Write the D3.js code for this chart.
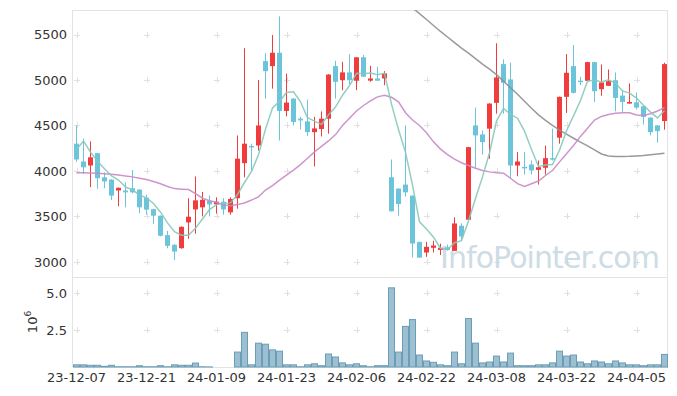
<!DOCTYPE html>
<html lang="ko">
<head>
    <meta charset="UTF-8">
    <title>주가 차트</title>
    <script src="https://d3js.org/d3.v7.min.js"></script>
    <style>
        body {
            margin: 0;
            padding: 0;
            background-color: #ffffff;
        }
        svg text {
            font-family: "DejaVu Sans", sans-serif;
            fill: #333333;
        }
    </style>
</head>
<body>
    <div id="chart"></div>

    <script>
        // trading days (YY-MM-DD)
        const dates = [
            "23-12-07","23-12-08","23-12-11","23-12-12","23-12-13","23-12-14","23-12-15","23-12-18","23-12-19","23-12-20",
            "23-12-21","23-12-22","23-12-26","23-12-27","23-12-28","24-01-02","24-01-03","24-01-04","24-01-05","24-01-08",
            "24-01-09","24-01-10","24-01-11","24-01-12","24-01-15","24-01-16","24-01-17","24-01-18","24-01-19","24-01-22",
            "24-01-23","24-01-24","24-01-25","24-01-26","24-01-29","24-01-30","24-01-31","24-02-01","24-02-02","24-02-05",
            "24-02-06","24-02-07","24-02-08","24-02-13","24-02-14","24-02-15","24-02-16","24-02-19","24-02-20","24-02-21",
            "24-02-22","24-02-23","24-02-26","24-02-27","24-02-28","24-02-29","24-03-04","24-03-05","24-03-06","24-03-07",
            "24-03-08","24-03-11","24-03-12","24-03-13","24-03-14","24-03-15","24-03-18","24-03-19","24-03-20","24-03-21",
            "24-03-22","24-03-25","24-03-26","24-03-27","24-03-28","24-03-29","24-04-01","24-04-02","24-04-03","24-04-04",
            "24-04-05","24-04-08","24-04-09","24-04-11","24-04-12"
        ];

        const opens = [
            4300, 4104, 4060, 4196, 3930, 3905, 3785, 3785, 3810, 3795,
            3705, 3580, 3508, 3295, 3188, 3151, 3434, 3577, 3600, 3670,
            3633, 3662, 3545, 3700, 4086, 4275, 4280, 5208, 5153, 5300,
            4660, 4796, 4575, 4545, 4427, 4461, 4575, 5153, 4998, 5084,
            4993, 5250, 4993, 5017, 5017, 3931, 3806, 3850, 3729, 3220,
            3103, 3155, 3132, 3160, 3121, 3397, 3464, 4501, 4402, 4465,
            4749, 5175, 5006, 4060, 4045, 4071, 4012, 4035, 4141, 4366,
            4815, 5153, 4993, 4991, 5197, 4899, 4936, 4998, 4829, 4741,
            4755, 4711, 4586, 4501, 4549
        ];
        const highs = [
            4500, 4355, 4325, 4200, 3985, 3910, 3818, 3875, 4010, 3800,
            3740, 3585, 3510, 3340, 3195, 3390, 3700, 3940, 3770, 3730,
            3710, 3700, 3710, 4390, 5350, 4300, 5000, 5295, 5495, 5700,
            5070, 4800, 4595, 4785, 4595, 4655, 5065, 5212, 5200, 5285,
            5250, 5275, 5155, 5145, 5098, 4126, 3810, 4500, 3730, 3222,
            3220, 3232, 3200, 3190, 3490, 3423, 4265, 4697, 4446, 4745,
            5404, 5227, 5190, 4207, 4207, 4115, 4115, 4280, 4465, 4818,
            5285, 5385, 5037, 5200, 5200, 5171, 5116, 5084, 4888, 4962,
            4862, 4715, 4590, 4505, 5190
        ];
        const lows = [
            4100, 3965, 3822, 3805, 3810, 3680, 3613, 3600, 3755, 3535,
            3520, 3420, 3280, 3150, 3020, 3145, 3255, 3310, 3500, 3500,
            3530, 3520, 3520, 3585, 3930, 4005, 4225, 4795, 4905, 4335,
            4600, 4500, 4455, 4385, 4050, 4380, 4410, 4795, 4888, 4955,
            4888, 5035, 4980, 4990, 4943, 3556, 3508, 3718, 3047, 3045,
            3055, 3103, 3075, 3125, 3120, 3232, 3460, 4035, 4180, 4134,
            4630, 4630, 3913, 3942, 3960, 3960, 3850, 3960, 4115, 4300,
            4637, 4852, 4943, 4988, 4759, 4826, 4936, 4656, 4650, 4741,
            4675, 4510, 4391, 4311, 4454
        ];
        const closes = [
            4126, 4040, 4150, 3920, 3885, 3729, 3815, 3765, 3765, 3600,
            3575, 3508, 3287, 3177, 3114, 3386, 3497, 3677, 3683, 3632,
            3662, 3577, 3692, 4135, 4300, 4265, 4500, 5098, 5300, 4660,
            4752, 4538, 4556, 4427, 4468, 4575, 5060, 4980, 5084, 4998,
            5250, 5037, 5017, 4993, 5073, 3556, 3637, 3765, 3202, 3047,
            3166, 3180, 3155, 3130, 3423, 3280, 4262, 4391, 4317, 4741,
            5028, 4969, 4060, 4104, 4035, 4005, 4041, 4141, 4134, 4815,
            5080, 4859, 4982, 5197, 4877, 4973, 4987, 4803, 4759, 4759,
            4697, 4594, 4427, 4438, 5175
        ];

        // moving averages as drawn (5, 20, 60 days)
        const ma5 = [
            4236, 4328, 4207, 4107, 4024, 3945, 3900, 3823, 3792, 3735,
            3704, 3643, 3547, 3429, 3332, 3294, 3292, 3370, 3471, 3575,
            3630, 3646, 3649, 3740, 3873, 3994, 4178, 4460, 4693, 4765,
            4862, 4870, 4761, 4587, 4548, 4513, 4617, 4702, 4833, 4939,
            5074, 5070, 5077, 5059, 5074, 4735, 4455, 4205, 3847, 3441,
            3363, 3272, 3150, 3136, 3211, 3234, 3450, 3697, 3935, 4198,
            4548, 4689, 4623, 4580, 4439, 4235, 4049, 4065, 4071, 4227,
            4442, 4606, 4774, 4987, 4999, 4978, 5003, 4967, 4880, 4856,
            4801, 4722, 4647, 4583, 4666
        ];
        const ma20 = [
            3980, 3980, 3978, 3975, 3970, 3965, 3955, 3945, 3935, 3920,
            3905, 3885, 3860, 3830, 3806, 3800, 3795, 3750, 3700, 3673,
            3655, 3626, 3618, 3630, 3648, 3680, 3715, 3790, 3840, 3900,
            3955, 4010, 4070, 4140, 4210, 4270, 4330, 4400, 4500, 4580,
            4660, 4720, 4770, 4815, 4833, 4810, 4760, 4640, 4560, 4500,
            4420, 4320, 4240, 4180, 4130, 4090, 4060, 4030, 4005, 3990,
            3980, 3975, 3920, 3860, 3830, 3860, 3890, 3950, 4005, 4100,
            4190, 4280, 4380, 4470, 4560, 4600, 4620, 4635, 4640, 4640,
            4615, 4610, 4630, 4660, 4697
        ];
        const ma60 = [
            null, null, null, null, null, null, null, null, null, null,
            null, null, null, null, null, null, null, null, null, null,
            null, null, null, null, null, null, null, null, null, null,
            null, null, null, null, null, null, null, null, null, null,
            null, null, null, null, null, null, null, 5850, 5793, 5730,
            5666, 5600, 5534, 5473, 5412, 5350, 5296, 5235, 5175, 5119,
            5059, 4987, 4915, 4844, 4766, 4689, 4617, 4557, 4501, 4450,
            4404, 4360, 4317, 4275, 4231, 4187, 4165, 4159, 4159, 4161,
            4165, 4170, 4179, 4187, 4196
        ];

        // volume in millions of shares
        const volumes = [
            0.18, 0.18, 0.15, 0.15, 0.08, 0.15, 0.05, 0.05, 0.05, 0.12,
            0.05, 0.05, 0.12, 0.05, 0.18, 0.15, 0.15, 0.30, 0.05, 0.04,
            0.01, 0.01, 0.02, 1.04, 2.37, 0.18, 1.64, 1.57, 1.19, 1.10,
            0.18, 0.18, 0.05, 0.18, 0.25, 0.12, 0.91, 0.71, 0.31, 0.18,
            0.25, 0.12, 0.05, 0.12, 0.12, 5.37, 1.04, 2.77, 3.23, 0.84,
            0.44, 0.35, 0.18, 0.12, 1.04, 0.25, 3.30, 1.64, 0.31, 0.37,
            0.77, 0.37, 0.97, 0.12, 0.12, 0.12, 0.18, 0.18, 0.31, 1.10,
            0.77, 0.84, 0.37, 0.25, 0.44, 0.37, 0.25, 0.44, 0.31, 0.18,
            0.18, 0.12, 0.18, 0.18, 0.88
        ];

        const priceTicks = [3000, 3500, 4000, 4500, 5000, 5500];
        const volumeTicks = [2.5, 5.0];
        const dateTicks = dates.filter((d, i) => i % 10 === 0);

        const width = 677;
        const height = 396;
        const left = 73, right = 668;
        const priceTop = 10, priceBottom = 278;
        const volTop = 278, volBottom = 367;

        const upColor = "#f03c3c";
        const downColor = "#6cc4da";

        const svg = d3.select("#chart")
            .append("svg")
            .attr("width", width)
            .attr("height", height);

        const x = d3.scaleBand().domain(dates).range([left, right]).padding(0);
        const cx = d => x(d) + x.bandwidth() / 2;

        const y = d3.scaleLinear().domain([2823, 5770]).range([priceBottom, priceTop]);
        const yVol = d3.scaleLinear().domain([0, 6.0]).range([volBottom, volTop]);

        svg.append("clipPath").attr("id", "price-clip")
            .append("rect")
            .attr("x", left).attr("y", priceTop)
            .attr("width", right - left).attr("height", priceBottom - priceTop);

        // pane borders
        const frame = svg.append("g").attr("stroke", "#e3e3e3").attr("fill", "none");
        frame.append("line").attr("x1", left).attr("x2", right).attr("y1", priceTop + 0.5).attr("y2", priceTop + 0.5);
        frame.append("line").attr("x1", left).attr("x2", right).attr("y1", priceBottom - 0.5).attr("y2", priceBottom - 0.5);
        frame.append("line").attr("x1", left).attr("x2", right).attr("y1", volBottom + 0.5).attr("y2", volBottom + 0.5);
        frame.append("line").attr("x1", left - 0.5).attr("x2", left - 0.5).attr("y1", priceTop).attr("y2", volBottom);
        frame.append("line").attr("x1", right - 0.5).attr("x2", right - 0.5).attr("y1", priceTop).attr("y2", volBottom);

        // little "+" marks at grid crossings
        const crossPoints = [];
        dateTicks.forEach(d => {
            priceTicks.forEach(v => crossPoints.push([cx(d), y(v)]));
            volumeTicks.forEach(v => crossPoints.push([cx(d), yVol(v)]));
        });
        svg.append("g")
            .attr("stroke", "#e0e0e0")
            .attr("stroke-width", 1)
            .selectAll("path")
            .data(crossPoints)
            .join("path")
            .attr("d", p => `M${Math.round(p[0]) - 3},${Math.round(p[1]) + 0.5}h6M${Math.round(p[0]) + 0.5},${Math.round(p[1]) - 3}v6`);

        // watermark
        svg.append("text")
            .attr("x", 660)
            .attr("y", 268)
            .attr("text-anchor", "end")
            .style("font-size", "30px")
            .style("fill", "#c5d7e1")
            .style("opacity", 0.85)
            .attr("textLength", 220)
            .text("InfoPointer.com");

        // candles
        const idx = d3.range(dates.length);
        const candles = svg.append("g").attr("clip-path", "url(#price-clip)");

        candles.selectAll("line.wick")
            .data(idx)
            .join("line")
            .attr("class", "wick")
            .attr("x1", i => cx(dates[i]))
            .attr("x2", i => cx(dates[i]))
            .attr("y1", i => y(highs[i]))
            .attr("y2", i => y(lows[i]))
            .attr("stroke", i => closes[i] > opens[i] ? upColor : downColor)
            .attr("stroke-width", 1);

        candles.selectAll("rect.body")
            .data(idx)
            .join("rect")
            .attr("class", "body")
            .attr("x", i => cx(dates[i]) - 2.5)
            .attr("width", 5)
            .attr("y", i => y(Math.max(opens[i], closes[i])))
            .attr("height", i => Math.max(1.5, Math.abs(y(opens[i]) - y(closes[i]))))
            .attr("fill", i => closes[i] > opens[i] ? upColor : downColor);

        // moving average lines
        const maLine = arr => d3.line()
            .defined(i => arr[i] !== null)
            .x(i => cx(dates[i]))
            .y(i => y(arr[i]));

        const lines = [
            { data: ma60, color: "#8e8e8e" },
            { data: ma20, color: "#c98ac6" },
            { data: ma5, color: "#86c9bb" }
        ];
        lines.forEach(l => {
            candles.append("path")
                .attr("d", maLine(l.data)(idx))
                .attr("fill", "none")
                .attr("stroke", l.color)
                .attr("stroke-width", 1.5)
                .attr("stroke-opacity", 0.9);
        });

        // volume bars
        svg.append("g")
            .selectAll("rect")
            .data(idx.filter(i => volumes[i] > 0))
            .join("rect")
            .attr("x", i => x(dates[i]) + 0.5)
            .attr("width", x.bandwidth() - 1)
            .attr("y", i => yVol(volumes[i]) + 0.5)
            .attr("height", i => Math.max(0, volBottom - yVol(volumes[i]) - 0.5))
            .attr("fill", "#9cc0d1")
            .attr("stroke", "#6b9db6")
            .attr("stroke-width", 1);

        // axes
        const axisY = svg.append("g")
            .attr("transform", `translate(${left},0)`)
            .call(d3.axisLeft(y).tickValues(priceTicks).tickFormat(d3.format("d")).tickSize(0).tickPadding(6));
        const axisVol = svg.append("g")
            .attr("transform", `translate(${left},0)`)
            .call(d3.axisLeft(yVol).tickValues(volumeTicks).tickFormat(d3.format(".1f")).tickSize(0).tickPadding(6));
        const axisX = svg.append("g")
            .attr("transform", `translate(0,${volBottom})`)
            .call(d3.axisBottom(x).tickValues(dateTicks).tickSize(0).tickPadding(6));

        [axisY, axisVol, axisX].forEach(a => {
            a.select(".domain").remove();
            a.selectAll("text")
                .style("font-size", "13px")
                .style("font-family", "DejaVu Sans, sans-serif")
                .attr("fill", "#333");
        });

        // 10^6 unit label
        const unit = svg.append("text")
            .attr("transform", "translate(37,322) rotate(-90)")
            .attr("text-anchor", "middle")
            .style("font-size", "13px");
        unit.append("tspan").text("10");
        unit.append("tspan").attr("dy", -6).style("font-size", "9px").text("6");
    </script>
</body>
</html>
